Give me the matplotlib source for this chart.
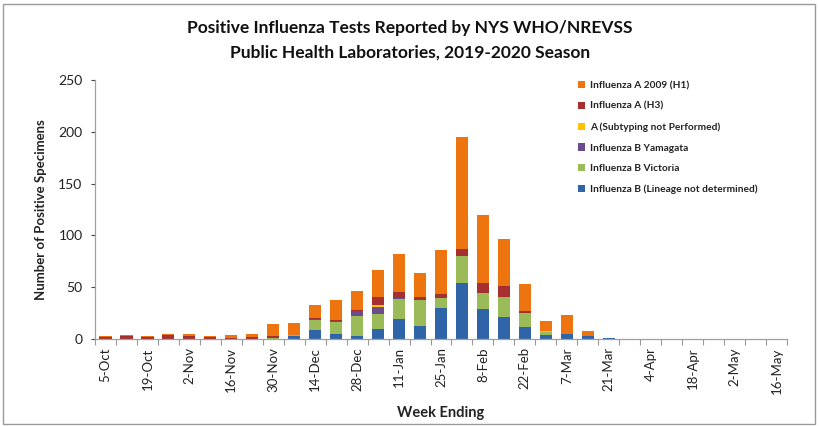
import matplotlib
matplotlib.use("Agg")
import matplotlib.pyplot as plt
from matplotlib.patches import Rectangle
import numpy as np

plt.rcParams['font.family'] = ['Lato', 'DejaVu Sans']

weeks = ["5-Oct", "12-Oct", "19-Oct", "26-Oct", "2-Nov", "9-Nov", "16-Nov", "23-Nov",
         "30-Nov", "7-Dec", "14-Dec", "21-Dec", "28-Dec", "4-Jan", "11-Jan", "18-Jan",
         "25-Jan", "1-Feb", "8-Feb", "15-Feb", "22-Feb", "29-Feb", "7-Mar", "14-Mar",
         "21-Mar", "28-Mar", "4-Apr", "11-Apr", "18-Apr", "25-Apr", "2-May", "9-May", "16-May"]

b_lineage = [0, 0, 0, 0, 0, 0, 0, 0, 0, 3, 9, 5, 3, 10, 19, 13, 30, 54, 29, 21, 12, 4, 5, 3,
             1, 0, 0, 0, 0, 0, 0, 0, 0]
b_victoria = [0, 0, 0, 0, 0, 0, 0, 0, 1, 1, 9, 11, 19, 14, 20, 25, 10, 26, 15, 20, 13, 3, 0, 0,
              0, 0, 0, 0, 0, 0, 0, 0, 0]
b_yamagata = [0, 0, 0, 0, 0, 0, 0, 0, 0, 0, 1, 1, 5, 7, 1, 0, 0, 0, 0, 0, 0, 0, 0, 0,
              0, 0, 0, 0, 0, 0, 0, 0, 0]
a_unsubtyped = [0, 0, 0, 0, 0, 0, 0, 0, 0, 0, 0, 0, 0, 2, 0, 0, 0, 0, 0, 0, 0, 1, 0, 0,
                0, 0, 0, 0, 0, 0, 0, 0, 0]
a_h3 = [2, 3, 2, 4, 3, 2, 1, 2, 2, 0, 1, 1, 1, 8, 5, 3, 3, 7, 10, 10, 2, 0, 0, 0,
        0, 0, 0, 0, 0, 0, 0, 0, 0]
a_h1 = [1, 1, 1, 1, 2, 1, 3, 3, 11, 11, 13, 20, 18, 26, 37, 23, 43, 108, 66, 46, 26, 9, 18, 5,
        0, 0, 0, 0, 0, 0, 0, 0, 0]

series = [
    ("Influenza B (Lineage not determined)", b_lineage, "#2F65A8"),
    ("Influenza B Victoria", b_victoria, "#9BBB59"),
    ("Influenza B Yamagata", b_yamagata, "#6A4C8C"),
    ("A (Subtyping not Performed)", a_unsubtyped, "#FFC000"),
    ("Influenza A (H3)", a_h3, "#A5302F"),
    ("Influenza A 2009 (H1)", a_h1, "#EE7410"),
]

fig = plt.figure(figsize=(8.2, 4.26), dpi=100)
ax = fig.add_axes([95/820, 1 - 339/426, 692/820, 259/426])

x = np.arange(len(weeks))
bottom = np.zeros(len(weeks))
handles = {}
for name, vals, col in series:
    v = np.array(vals, dtype=float)
    h = ax.bar(x, v, bottom=bottom, width=0.58, color=col, edgecolor='none')
    handles[name] = h
    bottom += v

ax.set_xlim(-0.5, len(weeks) - 0.5)
ax.set_ylim(0, 250)
ax.set_yticks([0, 50, 100, 150, 200, 250])
ax.tick_params(axis='y', labelsize=10, colors='#444444', length=3, width=0.8, pad=6)
for lab in ax.get_yticklabels():
    lab.set_color('#222222')

ax.set_xticks(x[::2])
ax.set_xticklabels(weeks[::2], rotation=90, fontsize=9.5, color='#222222')
ax.set_xticks(np.arange(-0.5, len(weeks), 1), minor=True)
ax.tick_params(axis='x', which='major', length=0, pad=6)
ax.tick_params(axis='x', which='minor', length=4, width=0.8, color='#999999')

for s in ['top', 'right']:
    ax.spines[s].set_visible(False)
for s in ['left', 'bottom']:
    ax.spines[s].set_color('#A0A0A0')
    ax.spines[s].set_linewidth(0.9)

ax.set_ylabel("Number of Positive Specimens", fontsize=9.5, fontweight='bold', color='#222222', labelpad=8)
ax.set_xlabel("Week Ending", fontsize=10.5, fontweight='bold', color='#222222', labelpad=9)

fig.text(0.5, 1 - 28/426, "Positive Influenza Tests Reported by NYS WHO/NREVSS",
         ha='center', va='center', fontsize=12.5, fontweight='bold', color='#111111')
fig.text(0.5, 1 - 53/426, "Public Health Laboratories, 2019-2020 Season",
         ha='center', va='center', fontsize=12.5, fontweight='bold', color='#111111')

order = ["Influenza A 2009 (H1)", "Influenza A (H3)", "A (Subtyping not Performed)",
         "Influenza B Yamagata", "Influenza B Victoria", "Influenza B (Lineage not determined)"]
leg = ax.legend([handles[n] for n in order], order, loc='upper left',
                bbox_to_anchor=((578 - 95) / 692, 0.995), frameon=False,
                prop={'size': 7.3, 'weight': 'bold'}, handlelength=0.7, handleheight=0.7,
                labelspacing=1.13, handletextpad=0.5, borderaxespad=0.0, borderpad=0.0)
for t in leg.get_texts():
    t.set_color('#222222')

fig.patches.append(Rectangle((3/820, 2/426), 812/820, 420/426, transform=fig.transFigure,
                             fill=False, edgecolor='#9A9A9A', linewidth=1.0))

fig.savefig("out.png", dpi=100)
